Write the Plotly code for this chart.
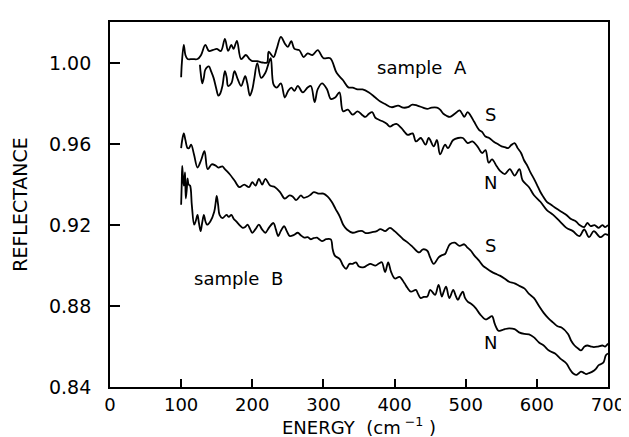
import plotly.graph_objects as go

# ---- data ----
a_s_x = [100,101,103.7,106,109,116,123,128,134,139,145,150,156,161.5,166,170.6,173.7,178.4,184.3,191,196,200,207,214,220.8,223,229.8,234.3,240.2,245.7,250,254.8,259.3,266,272.3,277.8,284.6,292,300,309.5,318.5,327.6,335,341,348,355,364,373,380,386.7,395.8,405,412,418.6,425,432,440,446,452,459.6,464,468.6,473,477.8,484.6,491.4,495,498,502.7,507,511.9,518.7,523,527.8,533,539,545,550.5,555,559.6,564,568.7,573,577.8,582,587,591,596,600,605,609,614,620,628,635,641.6,648,655,660,666.6,671,675.7,681,687,692,696,700]
a_s_y = [0.993,1.000,1.009,1.004,1.002,1.002,1.002,1.004,1.009,1.006,1.0065,1.007,1.006,1.012,1.006,1.009,1.007,1.011,1.002,1.004,1.002,1.001,1.001,1.0003,1.0003,1.0056,1.003,1.007,1.013,1.0097,1.008,1.0108,1.007,1.0064,1.003,1.0048,1.004,1.0064,1.0024,1.0024,0.9952,0.9915,0.988,0.9879,0.987,0.987,0.9855,0.983,0.981,0.9798,0.9782,0.979,0.978,0.9782,0.9795,0.979,0.978,0.9774,0.978,0.978,0.977,0.975,0.974,0.9734,0.975,0.9766,0.975,0.9734,0.9758,0.974,0.971,0.967,0.966,0.9637,0.963,0.9613,0.960,0.9589,0.9585,0.958,0.9595,0.9605,0.958,0.9556,0.952,0.949,0.946,0.9428,0.940,0.9363,0.934,0.9315,0.930,0.928,0.9265,0.925,0.923,0.9218,0.920,0.919,0.921,0.9195,0.920,0.9186,0.920,0.919,0.920]

a_n_x = [126.4,127.5,129.7,132,134,139,142,145.6,149,152.4,155,158,161.5,164,166,170.6,175,179.7,184.3,190,193,196.6,200,202.6,207,212.4,218.4,223,226,229.8,234.3,240.2,245.7,250,254.8,259.3,264,271,277.8,282.4,287.6,292,298,305,310.4,316.5,322.5,327.6,334.4,341,348,355,359,364,368.5,373,378,384.4,389,393.5,398,402.6,409.4,414,418.6,425.4,430,436.8,443.6,448,455,459.6,464,471,475,482.4,489.2,496,502.7,509.5,516.4,523,527.8,532.3,537,543.6,548.3,555,562,568.7,575.5,580,589,596,605,614,623,632.3,641.6,650.7,659.7,666.6,673.4,680,689.3,696,700]
a_n_y = [0.9992,0.995,0.990,0.993,0.9968,0.9984,0.996,0.9927,0.988,0.9839,0.985,0.9887,0.996,0.993,0.9887,0.990,0.996,0.9919,0.9887,0.9935,0.990,0.9839,0.987,0.9919,1.000,0.9927,0.9952,1.000,1.0024,0.9895,0.9879,0.990,0.983,0.986,0.9879,0.9863,0.9887,0.9855,0.9879,0.9887,0.9807,0.9871,0.990,0.9871,0.9823,0.983,0.9855,0.9762,0.977,0.9745,0.9762,0.9742,0.9734,0.975,0.9758,0.973,0.972,0.971,0.970,0.9686,0.9695,0.970,0.968,0.966,0.9645,0.9653,0.9613,0.963,0.9597,0.963,0.9589,0.962,0.9549,0.9597,0.958,0.962,0.963,0.963,0.9605,0.9613,0.9589,0.9556,0.957,0.9508,0.9524,0.949,0.9468,0.9452,0.9476,0.9444,0.9476,0.942,0.9387,0.9347,0.9315,0.9274,0.925,0.9218,0.9186,0.917,0.9145,0.9178,0.914,0.917,0.914,0.9155,0.915]

b_s_x = [100,101.5,103.7,106,109,111,114,118,123,128,132.8,137.3,143,148,152.4,158,161.5,168,175,182,188.7,195.5,200,204.5,209.3,213.9,218.4,225,232,239,245.7,252.5,257,261.6,268.4,272,277.6,282,286.6,293,300,306,311.6,317,323,328,333,341,350,355,359.4,368.5,375,380,387,393.5,400,405,412,418.6,426,434.4,440,446,450,455,461.9,466,471,474,477.8,484.6,491.4,498,502,507.3,512,518.7,524,530,536,541.5,548,555,561,568.7,575,582.4,589,596,603,609.6,616,623,629,634.7,643.8,648,653,658,662,667,671.2,676,680,686,692,696,699,700]
b_s_y = [0.958,0.962,0.9653,0.962,0.958,0.958,0.9597,0.955,0.9484,0.952,0.9565,0.9476,0.950,0.9495,0.9484,0.949,0.9476,0.9452,0.942,0.9387,0.940,0.9387,0.9412,0.9395,0.9428,0.940,0.9428,0.9395,0.9387,0.9363,0.9331,0.9347,0.934,0.9323,0.9347,0.9335,0.934,0.935,0.9363,0.9355,0.9355,0.934,0.9315,0.928,0.9242,0.920,0.9178,0.9162,0.917,0.917,0.916,0.9165,0.917,0.918,0.917,0.9186,0.917,0.9154,0.913,0.9113,0.909,0.9065,0.908,0.9073,0.904,0.9008,0.904,0.905,0.9057,0.908,0.9105,0.9113,0.9097,0.9105,0.909,0.9073,0.905,0.9024,0.900,0.8984,0.897,0.896,0.895,0.8935,0.892,0.8912,0.890,0.8887,0.886,0.8839,0.880,0.8766,0.874,0.8718,0.870,0.8694,0.8662,0.863,0.8605,0.859,0.8581,0.860,0.8605,0.860,0.8597,0.860,0.8605,0.860,0.861,0.8615]

b_n_x = [100,100.8,101.5,102.5,103.7,104.5,105.5,106.5,108,109,110.5,112.5,115,118.3,120.5,123,125,127.4,129.5,132,134,136.5,141,146.5,148.5,150,152,154,158,163.8,167,170.6,174,177.4,182,186.6,190,193.4,197,200,204.5,209.3,213.5,218.4,224,229.8,233,236.5,240,244.8,248.5,252.5,258,264,268,273,278,282,286,291,294,298,304,310.3,313,316,323,327.6,332,336.6,341,345.8,350,357,361,366,373,378,382,386.7,391,395,400.4,407,414,418,423,430,433,436.8,441,446,450,453,457,461.9,466.4,469,472.4,477,482.4,486,489,492,496,499,502.7,508,514,520,527.8,532,537,541,546,550,555,561,568.7,575,582.4,589,596,603,609.6,617,625.6,633,641.6,646,650.7,655,658,662,666,669,674,678,683,687,691,694,697,700]
b_n_y = [0.930,0.940,0.9492,0.944,0.9395,0.942,0.946,0.9331,0.938,0.943,0.940,0.9395,0.930,0.9202,0.922,0.925,0.921,0.917,0.921,0.925,0.922,0.9202,0.9218,0.9266,0.931,0.9344,0.930,0.925,0.9234,0.925,0.924,0.925,0.923,0.9218,0.920,0.9186,0.919,0.9202,0.918,0.9162,0.918,0.9202,0.918,0.9162,0.919,0.921,0.918,0.9146,0.917,0.9194,0.917,0.9146,0.915,0.9162,0.915,0.9138,0.914,0.913,0.9135,0.9138,0.913,0.9121,0.913,0.9129,0.908,0.9049,0.9032,0.900,0.8984,0.9008,0.9008,0.9016,0.8995,0.8992,0.900,0.9008,0.900,0.901,0.9016,0.8968,0.9016,0.897,0.8936,0.8944,0.8912,0.889,0.8871,0.888,0.886,0.8839,0.8845,0.8847,0.888,0.887,0.8855,0.8904,0.8847,0.887,0.8896,0.8839,0.888,0.885,0.883,0.885,0.8871,0.884,0.8822,0.881,0.879,0.876,0.8734,0.874,0.875,0.871,0.8678,0.868,0.8686,0.869,0.8686,0.867,0.8662,0.866,0.8645,0.862,0.8605,0.858,0.8565,0.854,0.8516,0.849,0.8468,0.846,0.8465,0.8476,0.847,0.8464,0.847,0.8476,0.849,0.8508,0.8515,0.8524,0.8557,0.8565]

x_ticks = [0, 100, 200, 300, 400, 500, 600, 700]
y_ticks = [0.84, 0.88, 0.92, 0.96, 1.00]
y_tick_labels = ["0.84", "0.88", "0.92", "0.96", "1.00"]

labels_text = ["sample  A", "S", "N", "S", "N", "sample  B"]
labels_x = [438, 535, 535, 535, 535, 181]
labels_y = [0.998, 0.9744, 0.9411, 0.9097, 0.8621, 0.8936]

FONT = "DejaVu Sans"

fig = go.Figure()
for xs, ys in [(a_s_x, a_s_y), (a_n_x, a_n_y), (b_s_x, b_s_y), (b_n_x, b_n_y)]:
    fig.add_trace(go.Scatter(x=xs, y=ys, mode="lines",
                             line=dict(color="black", width=1.8, shape="spline", smoothing=1.0),
                             showlegend=False, hoverinfo="skip"))

for t, x, y in zip(labels_text, labels_x, labels_y):
    fig.add_annotation(x=x, y=y, text=t, showarrow=False,
                       font=dict(family=FONT, size=18, color="black"))

axis_common = dict(showgrid=False, zeroline=False, showline=True, linecolor="black",
                   linewidth=1.8, mirror=True, ticks="inside", tickcolor="black",
                   tickwidth=1.6, ticklabeloverflow="allow")

fig.update_xaxes(range=[0, 700], tickvals=x_ticks, ticklen=8,
                 tickfont=dict(family=FONT, size=18, color="black"),
                 title=dict(text="ENERGY  (cm<sup> −1</sup> )", font=dict(family=FONT, size=18, color="black"),
                            standoff=6),
                 **axis_common)
fig.update_yaxes(range=[0.84, 1.0203], tickvals=y_ticks, ticktext=y_tick_labels, ticklen=10,
                 ticklabelstandoff=13,
                 tickfont=dict(family=FONT, size=19, color="black"),
                 title=dict(text="REFLECTANCE", font=dict(family=FONT, size=19, color="black"),
                            standoff=16),
                 **axis_common)

fig.update_layout(width=629, height=437, margin=dict(l=100, r=16, t=13, b=51),
                  plot_bgcolor="white", paper_bgcolor="white",
                  font=dict(family=FONT, color="black"))

fig.write_html("out.html")
